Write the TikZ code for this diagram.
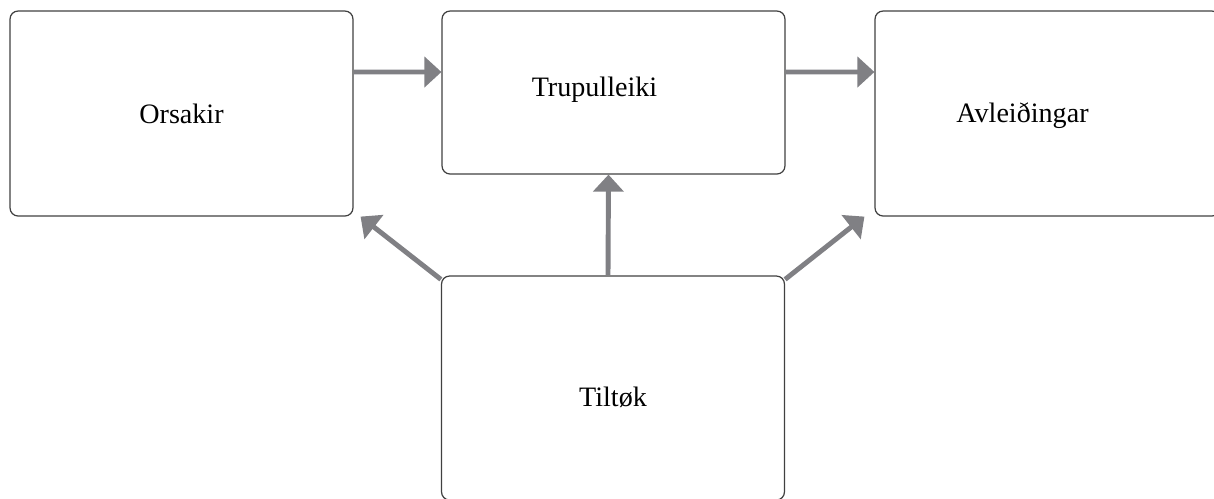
\documentclass[tikz,border=0pt]{standalone}
\usepackage{fontspec}
\setmainfont{Liberation Serif}
\usetikzlibrary{arrows.meta}
\definecolor{arrowgray}{RGB}{128,128,132}

\begin{document}
\begin{tikzpicture}[x=0.02cm, y=-0.02cm,
	box/.style={draw=black!75, line width=0.7pt, rounded corners=0.16cm, minimum width=6.86cm, font=\fontsize{16}{19}\selectfont},
	conn/.style={draw=arrowgray, line width=2.8pt, -{Triangle[length=0.34cm, width=0.6cm]}}]
	
	\useasboundingbox (0, 0) rectangle (1214, 498);
	
	\node[box, minimum height=4.1cm] (orsakir) at (181.5, 113.5) {Orsakir};
	\node[box, minimum height=3.26cm, label={[xshift=-0.38cm, yshift=0.06cm, font=\fontsize{16}{19}\selectfont]center:Trupulleiki}] (trupulleiki) at (613.5, 92.5) {};
	\node[box, minimum width=6.9cm, minimum height=4.1cm, label={[xshift=-0.5cm, yshift=-0.04cm, font=\fontsize{16}{19}\selectfont]center:Avleiðingar}] (avleidingar) at (1047.5, 113.5) {};
	\node[box, minimum height=4.48cm, label={[yshift=-0.18cm, font=\fontsize{16}{19}\selectfont]center:Tiltøk}] (tiltok) at (613, 388) {};
	
	\draw[conn] ([yshift=0.83cm]orsakir.east) -- ([yshift=0.41cm]trupulleiki.west);
	\draw[conn] ([yshift=0.41cm]trupulleiki.east) -- ([yshift=0.83cm]avleidingar.west);
	\draw[conn] ([xshift=-0.1cm]tiltok.north) -- ([xshift=-0.1cm]trupulleiki.south);
	\draw[conn] ([yshift=-0.08cm]tiltok.north west) -- ([xshift=0.14cm]orsakir.south east);
	\draw[conn] ([yshift=-0.08cm]tiltok.north east) -- ([xshift=-0.2cm]avleidingar.south west);
	
\end{tikzpicture}
\end{document}
